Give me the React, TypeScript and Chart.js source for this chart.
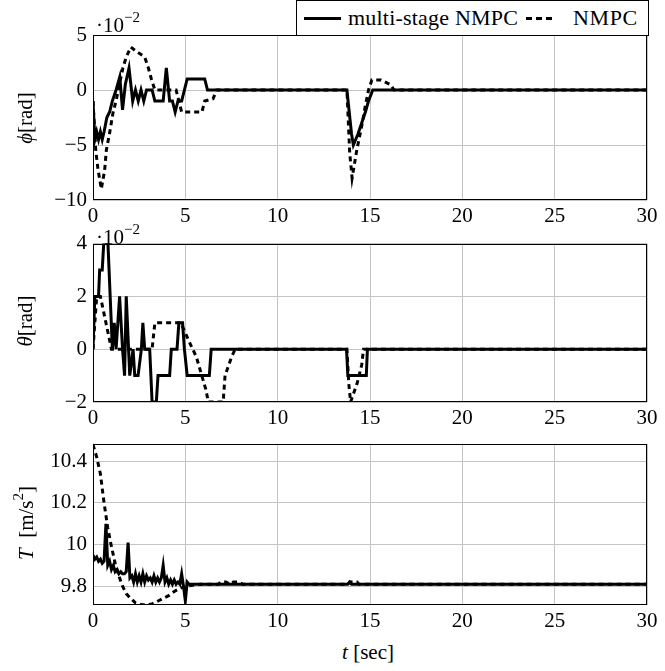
import React, { useEffect, useRef } from "react";
import { Chart, registerables } from "chart.js";

Chart.register(...registerables);

// ---------- data ----------
const X_TICKS = [0, 5, 10, 15, 20, 25, 30];
const PHI_TICKS = [-10, -5, 0, 5];
const THETA_TICKS = [-2, 0, 2, 4];
const T_TICKS = [9.8, 10, 10.2, 10.4];

// phi (x 1e-2 rad)
const PHI_MS_T = [0, 0.1, 0.2, 0.3, 0.4, 0.5, 0.6, 0.75, 0.9, 1.05, 1.25, 1.45, 1.6, 1.75, 1.95, 2.15, 2.3, 2.45, 2.6, 2.75, 2.9, 3.2, 3.35, 3.8, 3.97, 4.15, 4.3, 4.45, 4.6, 4.8, 4.95, 5.1, 6.05, 6.2, 13.75, 14.0, 14.1, 14.35, 14.55, 14.75, 14.92, 15.15, 30];
const PHI_MS = [-1, -4.5, -3.8, -4.5, -3.8, -4.5, -3.8, -2.5, -2, -1, 0, 1.2, -1.8, 0.5, 2, -1, 0, -1, 0, -1, 0, 0, -1, -1, 2, -1, -1, -2, -1, -1, 0, 1, 1, 0, 0, -4, -5, -4, -3, -2, -1, 0, 0];
const PHI_NMPC_T = [0, 0.15, 0.27, 0.45, 0.63, 0.72, 0.9, 1.08, 1.26, 1.44, 1.62, 1.8, 2.05, 2.35, 2.8, 3.0, 3.16, 3.35, 4.5, 4.8, 5.9, 6.05, 6.5, 6.7, 13.75, 13.9, 14.03, 14.28, 14.55, 14.74, 14.92, 15.1, 15.6, 16.1, 16.3, 30];
const PHI_NMPC = [-1, -5.5, -7.2, -9, -7.3, -5.5, -3.9, -2.1, -0.9, 0.6, 2, 3, 3.9, 3.5, 3, 2, 1, 0, 0, -2, -2, -1, -0.8, 0, 0, -5.7, -8, -5.5, -3.3, -1.5, 0, 0.9, 0.9, 0.5, 0, 0];

// theta (x 1e-2 rad)
const THETA_MS_T = [0, 0.1, 0.3, 0.36, 0.5, 0.58, 0.81, 1.05, 1.15, 1.25, 1.44, 1.6, 1.71, 1.8, 1.99, 2.17, 2.26, 2.44, 2.62, 2.7, 2.8, 3.07, 3.2, 3.43, 3.52, 4.15, 4.24, 4.55, 4.65, 4.85, 4.95, 5.1, 6.3, 6.4, 13.73, 13.8, 14.8, 14.86, 30];
const THETA_MS = [0, 2, 2, 3, 3, 4, 4, 0, 1, 0, 2, 0, -1, 2, -1, 0, -1, -1, 0, 1, 0, 0, -2, -2, -1, -1, 0, 0, 1, 1, 0, -1, -1, 0, 0, -1, -1, 0, 0];
const THETA_NMPC_T = [0, 0.2, 0.4, 0.55, 0.7, 0.85, 1.0, 3.2, 3.35, 4.75, 5.2, 5.6, 6.1, 6.25, 7.05, 7.15, 7.5, 7.7, 13.75, 13.85, 13.95, 14.3, 14.55, 14.65, 30];
const THETA_NMPC = [0, 2, 2, 1.5, 1, 0.5, 0, 0, 1, 1, 0.3, -0.3, -1.5, -2, -2, -1, -0.3, 0, 0, -1.3, -2, -1.3, -0.6, 0, 0];

// thrust T (m/s^2)
const T_MS_T = [0, 0.1, 0.2, 0.3, 0.4, 0.5, 0.6, 0.7, 0.8, 0.9, 1.0, 1.1, 1.2, 1.3, 1.4, 1.5, 1.6, 1.7, 1.8, 1.9, 2.0, 2.1, 2.2, 2.3, 2.4, 2.5, 2.6, 2.7, 2.8, 2.9, 3.0, 3.1, 3.2, 3.3, 3.4, 3.5, 3.6, 3.7, 3.8, 3.9, 4.0, 4.1, 4.2, 4.3, 4.4, 4.5, 4.6, 4.7, 4.8, 4.9, 5.0, 5.1, 5.2, 13.8, 13.9, 14.0, 30];
const T_MS = [9.95, 9.93, 9.94, 9.92, 9.93, 9.91, 9.92, 10.1, 9.9, 9.92, 9.88, 9.9, 9.87, 9.88, 9.86, 9.87, 9.86, 9.86, 9.87, 10.01, 9.84, 9.85, 9.82, 9.86, 9.82, 9.85, 9.82, 9.86, 9.82, 9.85, 9.83, 9.84, 9.82, 9.85, 9.82, 9.84, 9.82, 9.84, 9.9, 9.82, 9.84, 9.81, 9.83, 9.81, 9.83, 9.81, 9.82, 9.81, 9.86, 9.8, 9.73, 9.82, 9.81, 9.81, 9.82, 9.81, 9.81];
const T_NMPC_T = [0, 0.2, 0.4, 0.6, 0.8, 1.0, 1.2, 1.4, 1.6, 1.8, 2.0, 2.3, 2.6, 2.9, 3.2, 3.5, 3.8, 4.1, 4.4, 4.7, 5.0, 5.4, 5.8, 6.8, 6.9, 7.2, 7.4, 7.6, 7.9, 8.1, 13.8, 13.9, 14.3, 14.4, 30];
const T_NMPC = [10.48, 10.42, 10.34, 10.2, 10.08, 9.99, 9.91, 9.85, 9.8, 9.765, 9.745, 9.72, 9.712, 9.71, 9.715, 9.728, 9.742, 9.755, 9.775, 9.79, 9.8, 9.805, 9.81, 9.81, 9.82, 9.82, 9.81, 9.82, 9.82, 9.81, 9.81, 9.82, 9.82, 9.81, 9.81];

// ---------- styling ----------
const FAMILY = "'Liberation Serif', 'Times New Roman', serif";
const FONT = { family: FAMILY, size: 21 };
const GRID = "#c4c4c4";

const pts = (xs: number[], ys: number[]) => xs.map((x, i) => ({ x, y: ys[i] }));

const framePlugin = {
  id: "frame",
  afterDraw(chart: any) {
    const { ctx, chartArea } = chart;
    const { left, top, right, bottom } = chartArea;
    ctx.save();
    ctx.strokeStyle = "#000";
    ctx.lineWidth = 1;
    ctx.strokeRect(Math.round(left) + 0.5, Math.round(top) + 0.5, Math.round(right - left) - 1, Math.round(bottom - top) - 1);
    ctx.restore();
  },
};

function makeConfig(
  msT: number[], ms: number[], nT: number[], n: number[],
  yMin: number, yMax: number, yTicks: number[],
  padTop: number, xAxisH: number
): any {
  return {
    type: "line",
    data: {
      datasets: [
        { label: "multi-stage NMPC", data: pts(msT, ms), borderColor: "#000", borderWidth: 3, pointRadius: 0, tension: 0, fill: false },
        { label: "NMPC", data: pts(nT, n), borderColor: "#000", borderWidth: 3, borderDash: [5, 4], pointRadius: 0, tension: 0, fill: false },
      ],
    },
    options: {
      responsive: false,
      animation: false,
      devicePixelRatio: 1,
      layout: { padding: { top: padTop, right: 18, left: 0, bottom: 0 } },
      plugins: { legend: { display: false }, tooltip: { enabled: false } },
      scales: {
        x: {
          type: "linear",
          min: 0,
          max: 30,
          afterBuildTicks: (s: any) => { s.ticks = X_TICKS.map((v) => ({ value: v })); },
          afterFit: (s: any) => { s.height = xAxisH; },
          grid: { color: GRID, drawTicks: false },
          border: { display: false },
          ticks: { color: "#000", font: FONT, padding: 4, maxRotation: 0, autoSkip: false },
        },
        y: {
          type: "linear",
          min: yMin,
          max: yMax,
          afterBuildTicks: (s: any) => { s.ticks = yTicks.map((v) => ({ value: v })); },
          afterFit: (s: any) => { s.width = 93; },
          grid: { color: GRID, drawTicks: false },
          border: { display: false },
          ticks: {
            color: "#000",
            font: FONT,
            padding: 6,
            autoSkip: false,
            callback: (v: number) => String(v).replace("-", "\u2212"),
          },
        },
      },
    },
    plugins: [framePlugin],
  };
}

function PlotCanvas(props: { top: number; height: number; cfg: any }) {
  const ref = useRef<HTMLCanvasElement | null>(null);
  useEffect(() => {
    if (!ref.current) return;
    const chart = new Chart(ref.current, props.cfg);
    return () => chart.destroy();
  }, []);
  return (
    <canvas
      ref={ref}
      width={665}
      height={props.height}
      style={{ position: "absolute", left: 0, top: props.top, width: 665, height: props.height }}
    />
  );
}

const txt: React.CSSProperties = { position: "absolute", fontFamily: FAMILY, fontSize: 21, color: "#000", whiteSpace: "nowrap", lineHeight: 1 };

function RotLabel(props: { cx: number; cy: number; children: any }) {
  return (
    <div style={{ ...txt, left: props.cx, top: props.cy, transform: "translate(-50%, -50%) rotate(-90deg)" }}>
      {props.children}
    </div>
  );
}

function Exponent(props: { left: number; top: number }) {
  return (
    <div style={{ ...txt, left: props.left, top: props.top }}>
      ·10<sup style={{ fontSize: 15, position: "relative", top: -2 }}>{"\u2212"}2</sup>
    </div>
  );
}

export default function App() {
  const cfgPhi = makeConfig(PHI_MS_T, PHI_MS, PHI_NMPC_T, PHI_NMPC, -10, 5, PHI_TICKS, 35, 25);
  const cfgTheta = makeConfig(THETA_MS_T, THETA_MS, THETA_NMPC_T, THETA_NMPC, -2, 4, THETA_TICKS, 15, 23);
  const cfgT = makeConfig(T_MS_T, T_MS, T_NMPC_T, T_NMPC, 9.71, 10.485, T_TICKS, 17, 26);
  const dash = { position: "absolute", top: 16, width: 6, height: 3, background: "#000" } as React.CSSProperties;
  return (
    <div style={{ position: "fixed", left: 0, top: 0, width: 665, height: 671, background: "#fff", overflow: "hidden" }}>
      <PlotCanvas top={0} height={225} cfg={cfgPhi} />
      <PlotCanvas top={225} height={200} cfg={cfgTheta} />
      <PlotCanvas top={425} height={206} cfg={cfgT} />

      <Exponent left={96} top={12} />
      <Exponent left={96} top={224} />

      <RotLabel cx={25} cy={118}><i>ϕ</i>[rad]</RotLabel>
      <RotLabel cx={25} cy={321}><i>θ</i>[rad]</RotLabel>
      <RotLabel cx={25} cy={523}>
        <span><i>T</i>&nbsp;&nbsp;[m/s<sup style={{ fontSize: 15, position: "relative", top: -2 }}>2</sup>]</span>
      </RotLabel>
      <div style={{ ...txt, left: 368, top: 652, transform: "translate(-50%, -50%)" }}>
        <i>t</i>&nbsp;[sec]
      </div>

      <div
        style={{
          position: "absolute", left: 296, top: 0, width: 353, height: 36, boxSizing: "border-box",
          border: "1px solid #000", background: "#fff",
          fontFamily: FAMILY, fontSize: 22, whiteSpace: "nowrap",
        }}
      >
        <span style={{ position: "absolute", left: 7, top: 16, width: 37, height: 3, background: "#000" }} />
        <span style={{ position: "absolute", left: 51, top: 6, lineHeight: 1, letterSpacing: 0.2 }}>multi-stage NMPC</span>
        <span style={{ ...dash, left: 229 }} />
        <span style={{ ...dash, left: 239 }} />
        <span style={{ ...dash, left: 249 }} />
        <span style={{ position: "absolute", left: 276, top: 6, lineHeight: 1, letterSpacing: 0.6 }}>NMPC</span>
      </div>
    </div>
  );
}
